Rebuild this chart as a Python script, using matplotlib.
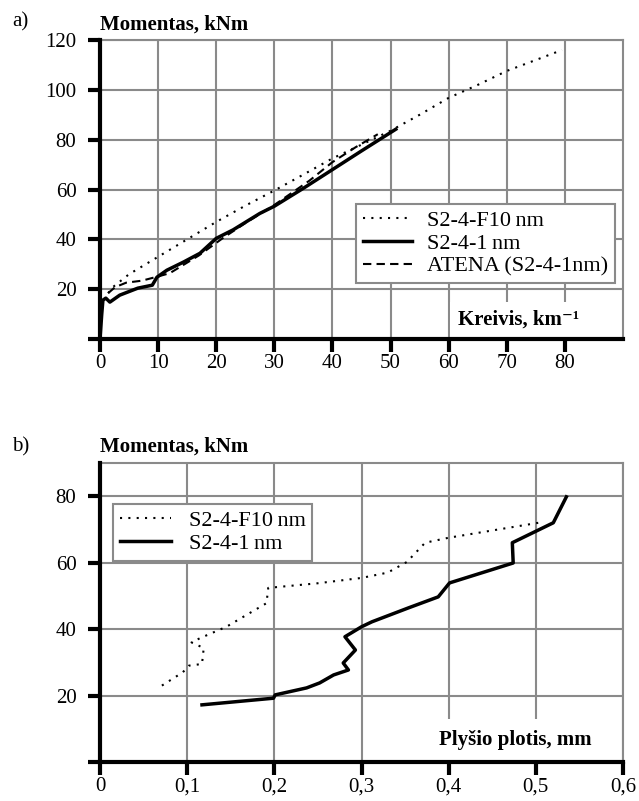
import matplotlib
matplotlib.use("Agg")
import matplotlib.pyplot as plt

plt.rcParams['font.family'] = ['Liberation Serif', 'DejaVu Serif']

# a) moment vs curvature
f10_k = [1.4, 2.2, 5, 10, 15, 20, 25, 30, 35, 40, 45, 50, 55, 60, 65, 70, 75, 79.5]
f10_m = [18.4, 20.8, 26, 33, 40, 47, 53.5, 59.6, 66, 72.5, 78, 83.6, 90, 96.8, 102, 107.6, 112, 116]

nm1_k = [0, 0.3, 0.5, 1.0, 1.7, 3.4, 6.5, 9.0, 9.8, 11.5, 14.3, 17.2, 20, 22.9, 27.5,
         30, 35, 40, 45, 50.9]
nm1_m = [0, 10, 15.6, 16.4, 14.8, 17.6, 20.4, 21.6, 24.8, 27.6, 30.8, 34.4, 40.4, 43.8, 50.4,
         53.3, 60.5, 68, 75.5, 84.2]

atena_k = [1.4, 2.6, 4.5, 7.2, 9.5, 12, 17, 21.2, 25, 30, 36, 40, 44, 47.8]
atena_m = [18.4, 20.8, 22.6, 23.4, 24.8, 26.4, 33.5, 40.6, 46.5, 53.8, 63.5, 71, 77, 82.2]

# b) moment vs crack width
f10_w = [0.071, 0.095, 0.102, 0.117, 0.119, 0.105, 0.115, 0.145, 0.191, 0.193, 0.25, 0.30,
         0.33, 0.352, 0.373, 0.40, 0.503]
f10_mb = [23, 27, 29, 29.5, 34.3, 36, 37.3, 40.7, 47.8, 52.4, 53.8, 55.4,
          57, 60.2, 66, 67.5, 72]

nm1_w = [0.117, 0.199, 0.201, 0.237, 0.252, 0.268, 0.285, 0.279, 0.293, 0.281, 0.30, 0.312,
         0.354, 0.388, 0.401, 0.474, 0.473, 0.52, 0.535]
nm1_mb = [17.2, 19.2, 20.2, 22.3, 23.8, 26.2, 27.7, 29.8, 33.7, 37.7, 40.7, 42.2,
          46.4, 49.7, 53.9, 59.9, 66, 72, 79.8]

top_xticks = [0, 10, 20, 30, 40, 50, 60, 70, 80]
top_yticks = [0, 20, 40, 60, 80, 100, 120]
bot_xticks = [0, 0.1, 0.2, 0.3, 0.4, 0.5, 0.6]
bot_xlabels = ["0", "0,1", "0,2", "0,3", "0,4", "0,5", "0,6"]
bot_yticks = [0, 20, 40, 60, 80]

FS = 15
LFS = 16
GRID = "#8a8a8a"

fig = plt.figure(figsize=(6.39, 8.01), dpi=100)
ax1 = fig.add_axes([0.1565, 0.5768, 0.8185, 0.3732])
ax2 = fig.add_axes([0.1565, 0.0487, 0.8185, 0.3733])


def style(ax):
    for s in ["top", "right"]:
        ax.spines[s].set_color(GRID)
        ax.spines[s].set_linewidth(1.5)
    for s in ["left", "bottom"]:
        ax.spines[s].set_linewidth(3)
        ax.spines[s].set_zorder(5)
    ax.grid(True, color=GRID, linewidth=1.5)
    ax.set_axisbelow(True)
    ax.tick_params(axis="both", direction="out", length=9, width=3, labelsize=FS)
    ax.tick_params(axis="y", pad=8)
    ax.tick_params(axis="x", pad=2)


# ---- a) ----
ax1.plot(f10_k, f10_m, color="black", lw=1.5, linestyle=(0, (1, 3)), label="S2-4-F10\u2009nm")
ax1.plot(nm1_k, nm1_m, color="black", lw=2.5, label="S2-4-1\u2009nm")
ax1.plot(atena_k, atena_m, color="black", lw=1.5, linestyle=(0, (4, 2.5)), label="ATENA (S2-4-1nm)")
ax1.set_xlim(0, 90)
ax1.set_ylim(0, 120)
ax1.set_xticks(top_xticks)
ax1.set_yticks(top_yticks)
ax1.set_yticklabels([""] + [str(v) for v in top_yticks[1:]])
style(ax1)
leg = ax1.legend(loc="upper right", bbox_to_anchor=(0.985, 0.452), fontsize=LFS, frameon=True,
                 fancybox=False, framealpha=1, edgecolor=GRID, handlelength=2.2,
                 borderpad=0.3, labelspacing=0.1, handletextpad=0.7, borderaxespad=0)
leg.get_frame().set_linewidth(1.5)
ax1.text(0.8, 0.064, "Kreivis, km\u207b\u00b9", transform=ax1.transAxes, ha="center", va="center",
         fontsize=FS, fontweight="bold",
         bbox=dict(facecolor="white", edgecolor="none", pad=6), zorder=4)

# ---- b) ----
ax2.plot(f10_w, f10_mb, color="black", lw=1.5, linestyle=(0, (1, 3)), label="S2-4-F10\u2009nm")
ax2.plot(nm1_w, nm1_mb, color="black", lw=2.5, label="S2-4-1\u2009nm")
ax2.set_xlim(0, 0.6)
ax2.set_ylim(0, 90)
ax2.set_xticks(bot_xticks)
ax2.set_xticklabels(bot_xlabels)
ax2.set_yticks(bot_yticks)
ax2.set_yticklabels([""] + [str(v) for v in bot_yticks[1:]])
style(ax2)
leg2 = ax2.legend(loc="upper left", bbox_to_anchor=(0.025, 0.863), fontsize=LFS, frameon=True,
                  fancybox=False, framealpha=1, edgecolor=GRID, handlelength=2.3,
                  borderpad=0.3, labelspacing=0.1, handletextpad=0.8, borderaxespad=0)
leg2.get_frame().set_linewidth(1.5)
ax2.text(0.794, 0.074, "Plyšio plotis, mm", transform=ax2.transAxes, ha="center", va="center",
         fontsize=FS, fontweight="bold",
         bbox=dict(facecolor="white", edgecolor="none", pad=8), zorder=4)

# panel captions and y-axis titles
fig.text(0.019, 1 - 22 / 801, "a)", fontsize=FS, ha="left", va="center")
fig.text(0.019, 1 - 447 / 801, "b)", fontsize=FS, ha="left", va="center")
fig.text(100 / 639, 1 - 25 / 801, "Momentas, kNm", fontsize=FS, fontweight="bold", ha="left", va="center")
fig.text(100 / 639, 1 - 447 / 801, "Momentas, kNm", fontsize=FS, fontweight="bold", ha="left", va="center")

fig.savefig("out.png", dpi=100)
